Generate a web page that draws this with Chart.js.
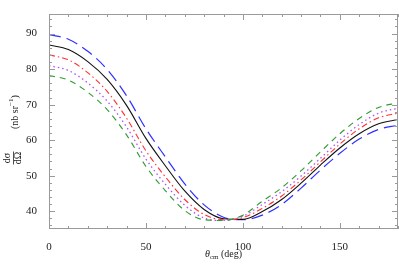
<!DOCTYPE html>
<html>
<head>
<meta charset="utf-8">
<script src="https://cdn.jsdelivr.net/npm/chart.js@4.4.1/dist/chart.umd.min.js"></script>
<style>
  html, body { margin: 0; padding: 0; background: #fff; }
  #wrap { width: 399px; height: 275px; }
</style>
</head>
<body>
<div id="wrap"><canvas id="chart" width="399" height="275"></canvas></div>
<script>
// scattering angle (deg)
const angles = [0, 10, 20, 30, 40, 50, 60, 70, 80, 90, 100, 110, 120, 130, 140, 150, 160, 170, 180];

// dsigma/dOmega (nb/sr)
const blueVals   = [89.7, 88.4, 85.0, 79.9, 72.5, 63.2, 55.3, 47.7, 41.8, 38.3, 37.6, 38.9, 41.9, 46.5, 51.6, 56.3, 60.3, 63.0, 64.2];
const blackVals  = [86.8, 85.5, 82.1, 77.1, 69.8, 60.5, 52.8, 45.7, 40.5, 37.9, 37.7, 39.9, 43.3, 47.9, 53.0, 57.8, 61.8, 64.6, 65.8];
const redVals    = [84.0, 82.6, 79.0, 73.7, 66.2, 57.0, 49.7, 43.3, 39.1, 37.6, 38.2, 40.8, 44.3, 48.8, 53.9, 58.9, 63.2, 66.3, 67.6];
const purpleVals = [81.0, 79.6, 76.1, 71.0, 63.7, 54.7, 47.6, 41.7, 38.1, 37.4, 38.6, 41.9, 45.5, 49.9, 54.9, 60.0, 64.4, 67.6, 69.0];
const greenVals  = [78.2, 76.9, 73.5, 68.6, 61.5, 52.6, 45.8, 40.2, 37.6, 37.4, 38.9, 42.8, 46.6, 51.4, 56.7, 61.8, 66.1, 69.2, 70.5];

const xTicks = [0, 50, 100, 150];
const yTicks = [40, 50, 60, 70, 80, 90];

const FONT = "'Liberation Serif', 'DejaVu Serif', serif";
const AXIS = '#9a9a9a';

function pts(vals) {
    return angles.map((a, i) => ({ x: a, y: vals[i] }));
}

function line(vals, color, dash, width) {
    return {
        data: pts(vals),
        borderColor: color,
        borderDash: dash,
        borderWidth: width,
        pointRadius: 0,
        fill: false,
        cubicInterpolationMode: 'monotone'
    };
}

// frame + inward ticks on all four sides
const framePlugin = {
    id: 'frame',
    afterDatasetsDraw(chart) {
        const { ctx, chartArea: a, scales } = chart;
        ctx.save();
        ctx.strokeStyle = AXIS;
        ctx.lineWidth = 1;
        ctx.strokeRect(a.left + 0.5, a.top + 0.5, a.right - a.left - 1, a.bottom - a.top - 1);

        ctx.beginPath();
        for (let v = 0; v <= 180; v += 10) {
            const px = Math.round(scales.x.getPixelForValue(v)) + 0.5;
            const len = v % 50 === 0 ? 6 : 3;
            ctx.moveTo(px, a.bottom);
            ctx.lineTo(px, a.bottom - len);
            ctx.moveTo(px, a.top);
            ctx.lineTo(px, a.top + len);
        }
        for (let v = 36; v <= 94; v += 2) {
            const py = Math.round(scales.y.getPixelForValue(v)) + 0.5;
            const len = v % 10 === 0 ? 6 : 3;
            ctx.moveTo(a.left, py);
            ctx.lineTo(a.left + len, py);
            ctx.moveTo(a.right, py);
            ctx.lineTo(a.right - len, py);
        }
        ctx.stroke();
        ctx.restore();
    },
    afterDraw(chart) {
        const { ctx, chartArea: a } = chart;
        ctx.save();
        ctx.fillStyle = '#222';
        ctx.strokeStyle = '#222';

        // x title: theta_cm (deg)
        ctx.textBaseline = 'alphabetic';
        ctx.textAlign = 'left';
        const italic = 'italic 10px ' + FONT;
        const normal = '10px ' + FONT;
        const small = '7px ' + FONT;
        ctx.font = italic;
        const wT = ctx.measureText('\u03b8').width;
        ctx.font = small;
        const wS = ctx.measureText('cm').width;
        ctx.font = normal;
        const wD = ctx.measureText(' (deg)').width;
        let x0 = (a.left + a.right) / 2 - (wT + wS + wD) / 2;
        const yb = 257;
        ctx.font = italic;
        ctx.fillText('\u03b8', x0, yb);
        ctx.font = small;
        ctx.fillText('cm', x0 + wT, yb + 2);
        ctx.font = normal;
        ctx.fillText(' (deg)', x0 + wT + wS, yb);

        // y title: dsigma/dOmega (nb sr^-1), rotated
        ctx.translate(13, 158);
        ctx.rotate(-Math.PI / 2);
        ctx.textAlign = 'center';
        ctx.textBaseline = 'middle';
        ctx.font = '10px ' + FONT;
        ctx.fillText('d\u03c3', 0, -5.5);
        ctx.fillText('d\u03a9', 0, 5.5);
        ctx.lineWidth = 0.8;
        ctx.beginPath();
        ctx.moveTo(-6.5, 0.5);
        ctx.lineTo(6.5, 0.5);
        ctx.stroke();

        ctx.textAlign = 'left';
        let u = 29;
        ctx.font = '10px ' + FONT;
        ctx.fillText('(nb sr', u, 2);
        u += ctx.measureText('(nb sr').width;
        ctx.font = '7px ' + FONT;
        ctx.fillText('\u22121', u, -1.5);
        u += ctx.measureText('\u22121').width;
        ctx.font = '10px ' + FONT;
        ctx.fillText(')', u, 2);
        ctx.restore();
    }
};

new Chart(document.getElementById('chart'), {
    type: 'line',
    data: {
        datasets: [
            line(greenVals, '#2f9a2f', [6, 5], 1.1),
            line(purpleVals, '#b050ff', [1.5, 3], 1.3),
            line(redVals, '#ff3030', [6, 3, 1.5, 3], 1.1),
            line(blackVals, '#111111', [], 1.1),
            line(blueVals, '#3030ff', [12, 6], 1.2)
        ]
    },
    options: {
        responsive: false,
        animation: false,
        devicePixelRatio: 1,
        layout: { padding: { top: 14, right: 1, left: 0, bottom: 0 } },
        plugins: {
            legend: { display: false },
            tooltip: { enabled: false }
        },
        scales: {
            x: {
                type: 'linear',
                min: 0,
                max: 180,
                grid: { display: false },
                border: { display: false },
                ticks: {
                    font: { family: FONT, size: 11 },
                    color: '#222',
                    padding: 4,
                    maxRotation: 0
                },
                afterBuildTicks: s => { s.ticks = xTicks.map(v => ({ value: v })); },
                afterFit: s => { s.height = 46; }
            },
            y: {
                min: 35,
                max: 95.5,
                grid: { display: false },
                border: { display: false },
                ticks: {
                    font: { family: FONT, size: 11 },
                    color: '#222',
                    padding: 4
                },
                afterBuildTicks: s => { s.ticks = yTicks.map(v => ({ value: v })); },
                afterFit: s => { s.width = 49; }
            }
        }
    },
    plugins: [framePlugin]
});
</script>
</body>
</html>
